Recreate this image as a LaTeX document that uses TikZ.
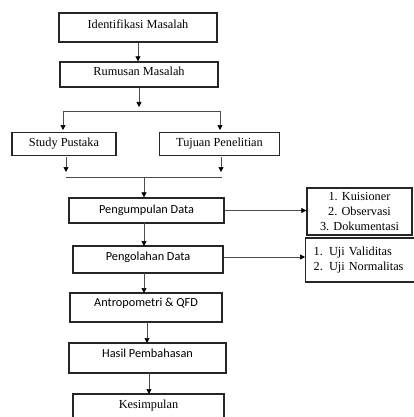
\documentclass[tikz,border=0pt]{standalone}
\usepackage{fontspec}
\setmainfont{Liberation Serif}
\newfontfamily\calib{Carlito}
\usetikzlibrary{arrows.meta,calc}
\begin{document}
\begin{tikzpicture}[x=1pt,y=-1pt,
  box/.style={draw=black!85,line width=1.3pt,inner sep=0pt,text height=9pt,text depth=3pt},
  serif/.style={font=\fontsize{12.3}{15}\selectfont},
  sans/.style={font=\calib\fontsize{12.3}{15}\selectfont},
  arr/.style={draw=black!70,line width=0.7pt,-{Triangle[width=5pt,length=5pt,color=black]}},
  ln/.style={draw=black!70,line width=0.7pt}]
\useasboundingbox (0,0) rectangle (413,417);
\node[box,serif,minimum width=158,minimum height=29,text depth=7pt] (idm) at (138,27.5) {Identifikasi Masalah};
\node[box,serif,minimum width=158,minimum height=25,text depth=7pt] (rum) at (139,74.5) {Rumusan Masalah};
\node[box,serif,minimum width=104,minimum height=23,text depth=5pt] (stu) at (64,144) {Study Pustaka};
\node[box,serif,minimum width=120,minimum height=23,text depth=5pt] (tuj) at (219.5,144) {Tujuan Penelitian};
\node[box,sans,minimum width=155,minimum height=25,text depth=4pt] (pgm) at (146.5,210.5) {Pengumpulan Data};
\node[box,sans,minimum width=150,minimum height=27,text depth=8pt] (pgo) at (148,259.5) {Pengolahan Data};
\node[box,sans,minimum width=152,minimum height=29,text depth=12pt] (ant) at (146,307.5) {Antropometri \& QFD};
\node[box,sans,minimum width=157,minimum height=30,text depth=11pt] (has) at (147.5,358) {Hasil Pembahasan};
\node[box,serif,minimum width=151,minimum height=31,text depth=12pt] (kes) at (148.5,409.5) {Kesimpulan};
\node[box,serif,minimum width=105,minimum height=47,align=center,text height=,text depth=] (k1) at (359.5,211.5) {1. Kuisioner\\2. Observasi\\3. Dokumentasi};
\node[box,serif,anchor=west,minimum width=111,minimum height=44,align=left,text width=95pt,inner xsep=8pt,text height=,text depth=] (k2) at (305,260) {1. Uji Validitas\\2. Uji Normalitas};
% connectors
\draw[arr] (idm.south) -- (idm.south |- rum.north);
\coordinate (j1) at (139,107);
\coordinate (hl) at (63,111);
\coordinate (hr) at (220,111);
\draw[arr] (rum.south) -- (j1);
\draw[ln] (hl) -- (hr);
\draw[arr] (hl) -- (63,130);
\draw[arr] (hr) -- (220,130);
\coordinate (sl) at (66,157);
\coordinate (sr) at (221,157);
\coordinate (gl) at (66,177);
\coordinate (gr) at (222,177);
\coordinate (gm) at (144,177);
\draw[arr] (sl) -- (66,172);
\draw[arr] (sr) -- (221,172);
\draw[ln] (gl) -- (gr);
\draw[arr] (gm) -- (gm |- pgm.north);
\draw[arr] (pgm.east) -- (pgm.east -| k1.west);
\draw[arr] (144,223) -- (144,246);
\draw[arr] (pgo.east |- 0,257) -- (k2.west |- 0,257);
\draw[arr] (144,273) -- (144,293);
\draw[arr] (147,322) -- (147,343);
\draw[arr] (149,373) -- (149,394);
\end{tikzpicture}
\end{document}
